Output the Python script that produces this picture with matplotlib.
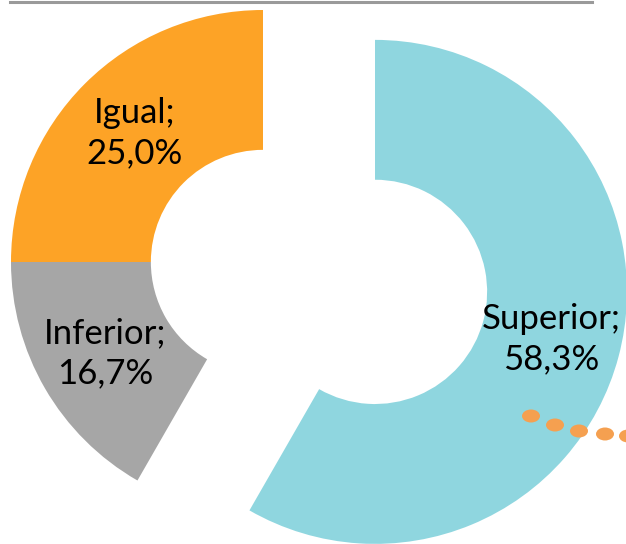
import numpy as np
import matplotlib.pyplot as plt
from matplotlib.lines import Line2D
from matplotlib.patches import Ellipse

# data
labels = ['Superior', 'Inferior', 'Igual']
values = [58.3, 16.7, 25.0]
colors = ['#8FD6DF', '#A6A6A6', '#FDA326']
explode = [0.46, 0, 0]

# decorative dots at bottom right (pixel positions, from top-left)
dots_px = [(531, 416), (555, 425), (579, 431), (605, 434), (628, 436)]

W, H = 626, 544
cx, cy, R = 263, 262, 252  # centre of unexploded pie, radius, in pixels
ring = 0.555

fig = plt.figure(figsize=(W / 100, H / 100), dpi=100)
ax = fig.add_axes([0, 0, 1, 1])

wedges, _ = ax.pie(values, colors=colors, explode=explode, startangle=90,
                   counterclock=False, radius=1.0,
                   wedgeprops=dict(width=ring, linewidth=0))

ax.set_xlim(-cx / R, (W - cx) / R)
ax.set_ylim(-(H - cy) / R, cy / R)
ax.set_aspect('equal')
ax.axis('off')

for w, lab, v in zip(wedges, labels, values):
    mid = np.deg2rad((w.theta1 + w.theta2) / 2)
    wx, wy = w.center
    r = 1 - ring / 2
    txt = f"{lab};\n{v:.1f}%".replace('.', ',')
    ax.text(wx + r * np.cos(mid), wy + r * np.sin(mid), txt,
            ha='center', va='center', fontsize=25, family='Lato',
            color='black', linespacing=1.32)

for px, py in dots_px:
    ax.add_patch(Ellipse(((px - cx) / R, (cy - py) / R),
                         18 / R, 13 / R, color='#F5A050', lw=0, clip_on=False))

# top frame edge
fig.add_artist(Line2D([10 / W, 592 / W], [1 - 1.5 / H, 1 - 1.5 / H],
                      color='#9A9A9A', lw=2.2))

fig.savefig('out.png', dpi=100)
